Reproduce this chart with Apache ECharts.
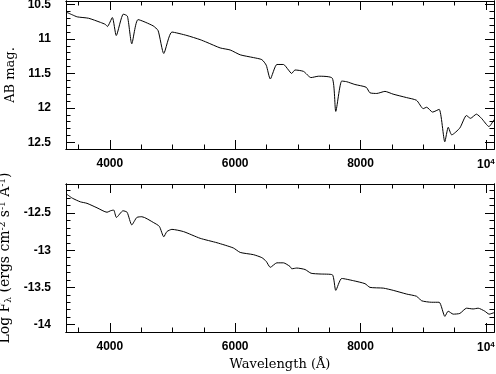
<!DOCTYPE html>
<html lang="en">
<head>
<meta charset="UTF-8">
<title>Spectrum</title>
<script src="https://cdn.jsdelivr.net/npm/echarts@6/dist/echarts.min.js"></script>
<style>
    html, body { margin: 0; padding: 0; background: #fff; }
    #chart { width: 496px; height: 374px; }
</style>
</head>
<body>
<div id="chart"></div>
<script>
    // top panel: AB magnitude
    var waveTop = [3300, 3400, 3480, 3660, 3850, 3930, 3960, 4040, 4102, 4215, 4280, 4350, 4450, 4690, 4770, 4860,
        4990, 5230, 5440, 5550, 5760, 5920, 6080, 6290, 6425, 6495, 6560, 6665, 6770, 6850, 6900, 6955,
        7090, 7210, 7330, 7550, 7605, 7700, 7780, 7910, 8090, 8150, 8260, 8390, 8520, 8735, 8895, 9000,
        9055, 9150, 9255, 9345, 9400, 9455, 9585, 9690, 9755, 9850, 9930, 10050, 10130];
    var magTop = [10.61, 10.65, 10.68, 10.70, 10.76, 10.79, 10.82, 10.69, 10.95, 10.64, 10.67, 11.07, 10.72, 10.81, 10.88, 11.21,
        10.90, 10.95, 11.01, 11.05, 11.13, 11.16, 11.23, 11.27, 11.30, 11.38, 11.58, 11.37, 11.37, 11.45, 11.50, 11.45,
        11.47, 11.56, 11.54, 11.57, 12.05, 11.61, 11.62, 11.66, 11.70, 11.78, 11.79, 11.76, 11.80, 11.85, 11.89, 12.01,
        11.99, 12.06, 12.02, 12.49, 12.28, 12.39, 12.29, 12.11, 12.15, 12.09, 12.15, 12.27, 12.17];

    // bottom panel: log flux
    var waveBot = [3300, 3400, 3530, 3635, 3795, 3955, 4010, 4060, 4105, 4210, 4275, 4350, 4430, 4510, 4700, 4790,
        4860, 4910, 4990, 5175, 5440, 5710, 5970, 6080, 6290, 6425, 6495, 6560, 6665, 6770, 6876, 6903,
        6983, 7115, 7211, 7354, 7550, 7605, 7700, 7885, 8071, 8151, 8363, 8522, 8736, 8895, 8975, 9134,
        9255, 9346, 9399, 9479, 9585, 9692, 9797, 9877, 9983, 10052, 10130];
    var fluxBot = [-12.24, -12.30, -12.35, -12.37, -12.43, -12.49, -12.47, -12.46, -12.56, -12.47, -12.49, -12.66, -12.56, -12.55, -12.63, -12.68,
        -12.82, -12.75, -12.72, -12.75, -12.84, -12.90, -12.97, -13.03, -13.06, -13.10, -13.15, -13.23, -13.17, -13.17, -13.22, -13.25,
        -13.24, -13.26, -13.31, -13.32, -13.33, -13.54, -13.38, -13.41, -13.45, -13.50, -13.51, -13.54, -13.59, -13.62, -13.68, -13.70,
        -13.70, -13.89, -13.82, -13.86, -13.85, -13.78, -13.79, -13.78, -13.82, -13.86, -13.84];

    var xMajor = [4000, 6000, 8000, 10000];
    var xMinor = [3500, 4500, 5000, 5500, 6500, 7000, 7500, 8500, 9000, 9500];
    var yMajorTop = [10.5, 11, 11.5, 12, 12.5];
    var yMinorTop = [10.6, 10.7, 10.8, 10.9, 11.1, 11.2, 11.3, 11.4, 11.6, 11.7, 11.8, 11.9, 12.1, 12.2, 12.3, 12.4];
    var yMajorBot = [-12.5, -13, -13.5, -14];
    var yMinorBot = [-12.2, -12.3, -12.4, -12.6, -12.7, -12.8, -12.9, -13.1, -13.2, -13.3, -13.4, -13.6, -13.7, -13.8, -13.9];

    var labelFont = 'Liberation Sans';
    var nameFont = 'DejaVu Serif';

    function xAx(g, pos, ticks, len, withLabel) {
        return {
            type: 'value', gridIndex: g, position: pos, min: 3300, max: 10130,
            axisLine: {show: true, onZero: false, lineStyle: {color: '#000', width: 1}},
            axisTick: {show: true, inside: true, length: len, customValues: ticks, lineStyle: {color: '#000', width: 1}},
            axisLabel: withLabel ? {
                show: true, customValues: xMajor, margin: 9, color: '#000',
                fontFamily: labelFont, fontSize: 12, fontWeight: 'bold',
                formatter: function (v) { return v === 10000 ? '10{sup|4}' : String(v); },
                rich: {sup: {fontSize: 8, fontWeight: 'bold', fontFamily: labelFont, color: '#000', verticalAlign: 'top', padding: [0, 0, 6, 0]}}
            } : {show: false},
            splitLine: {show: false}
        };
    }
    function yAx(g, pos, ticks, len, range, inv, withLabel) {
        return {
            type: 'value', gridIndex: g, position: pos, min: range[0], max: range[1], inverse: inv,
            axisLine: {show: true, onZero: false, lineStyle: {color: '#000', width: 1}},
            axisTick: {show: true, inside: true, length: len, customValues: ticks, lineStyle: {color: '#000', width: 1}},
            axisLabel: withLabel ? {
                show: true, customValues: ticks, margin: 15, color: '#000',
                fontFamily: labelFont, fontSize: 12, fontWeight: 'bold',
                formatter: function (v) { return String(v); }
            } : {show: false},
            splitLine: {show: false}
        };
    }

    var topRange = [10.45, 12.595];
    var botRange = [-14.10, -12.11];

    var xAxes = [
        xAx(0, 'bottom', xMajor, 9, true), xAx(0, 'top', xMajor, 9, false),
        xAx(0, 'bottom', xMinor, 4.5, false), xAx(0, 'top', xMinor, 4.5, false),
        xAx(1, 'bottom', xMajor, 9, true), xAx(1, 'top', xMajor, 9, false),
        xAx(1, 'bottom', xMinor, 4.5, false), xAx(1, 'top', xMinor, 4.5, false)
    ];
    xAxes[4].name = 'Wavelength (Å)';
    xAxes[4].nameLocation = 'middle';
    xAxes[4].nameGap = 26;
    xAxes[4].nameTextStyle = {fontFamily: nameFont, fontSize: 13, color: '#000'};

    var yAxes = [
        yAx(0, 'left', yMajorTop, 9, topRange, true, true), yAx(0, 'right', yMajorTop, 9, topRange, true, false),
        yAx(0, 'left', yMinorTop, 4.5, topRange, true, false), yAx(0, 'right', yMinorTop, 4.5, topRange, true, false),
        yAx(1, 'left', yMajorBot, 9, botRange, false, true), yAx(1, 'right', yMajorBot, 9, botRange, false, false),
        yAx(1, 'left', yMinorBot, 4.5, botRange, false, false), yAx(1, 'right', yMinorBot, 4.5, botRange, false, false)
    ];
    yAxes[0].name = 'AB mag.';
    yAxes[0].nameLocation = 'middle';
    yAxes[0].nameGap = 46;
    yAxes[0].nameRotate = 90;
    yAxes[0].nameTextStyle = {fontFamily: nameFont, fontSize: 13, color: '#000'};

    yAxes[4].name = 'Log F{sub|λ} (ergs cm{sup|-2} s{sup|-1} Å{sup|-1})';
    yAxes[4].nameLocation = 'middle';
    yAxes[4].nameGap = 50;
    yAxes[4].nameRotate = 90;
    yAxes[4].nameTextStyle = {
        fontFamily: nameFont, fontSize: 14, color: '#000',
        rich: {
            sup: {fontFamily: nameFont, fontSize: 9, color: '#000', verticalAlign: 'top', padding: [0, 0, 6, 0]},
            sub: {fontFamily: nameFont, fontSize: 9, color: '#000', verticalAlign: 'bottom', padding: [6, 0, 0, 0]}
        }
    };

    var chart = echarts.init(document.getElementById('chart'), null, {renderer: 'canvas'});
    chart.setOption({
        animation: false,
        backgroundColor: '#fff',
        grid: [
            {left: 66, right: 2, top: 1, height: 148, outerBoundsMode: 'none'},
            {left: 66, right: 2, top: 184, height: 148, outerBoundsMode: 'none'}
        ],
        xAxis: xAxes,
        yAxis: yAxes,
        series: [
            {
                type: 'line', xAxisIndex: 0, yAxisIndex: 0, showSymbol: false, smooth: 0.2,
                lineStyle: {color: '#000', width: 1},
                data: waveTop.map(function (w, i) { return [w, magTop[i]]; })
            },
            {
                type: 'line', xAxisIndex: 4, yAxisIndex: 4, showSymbol: false, smooth: 0.2,
                lineStyle: {color: '#000', width: 1},
                data: waveBot.map(function (w, i) { return [w, fluxBot[i]]; })
            }
        ]
    });
</script>
</body>
</html>
